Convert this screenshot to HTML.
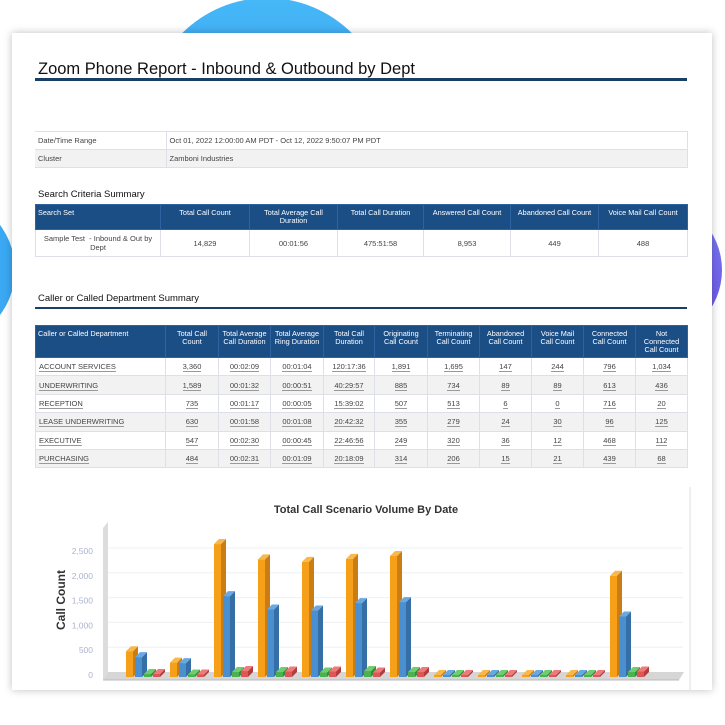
<!DOCTYPE html>
<html><head><meta charset="utf-8">
<style>
body{margin:0;width:725px;height:725px;position:relative;overflow:hidden;background:#fff;font-family:"Liberation Sans",sans-serif;}
#card{position:absolute;left:12px;top:33px;width:700px;height:657px;background:#fff;box-shadow:0 0 8px rgba(0,0,0,0.25);}
.abs{position:absolute;}
table{border-collapse:collapse;table-layout:fixed;position:absolute;font-size:7.5px;color:#444;}
td{border:1px solid #dde0e8;padding:0 3px;overflow:hidden;}
th{background:#1c4e86;color:#fff;font-weight:normal;border:1px solid #2f62a0;font-size:7.3px;line-height:8px;vertical-align:top;padding:4px 2px 0 2px;overflow:hidden;}
.u{border-bottom:1px solid #999;}
.g td{background:#f2f2f2;}
</style></head>
<body>
<svg width="725" height="725" style="position:absolute;left:0;top:0">
<defs>
<linearGradient id="gb" x1="0" y1="0" x2="0" y2="1"><stop offset="0" stop-color="#45b8f7"/><stop offset="1" stop-color="#3a8cf0"/></linearGradient>
<linearGradient id="gp" x1="0" y1="0" x2="0" y2="1"><stop offset="0" stop-color="#7a7ff0"/><stop offset="1" stop-color="#6b4fe6"/></linearGradient>
</defs>
<circle cx="267" cy="118" r="120" fill="url(#gb)"/>
<circle cx="-60" cy="270" r="75" fill="#3aa8f2"/>
<circle cx="650" cy="270" r="72" fill="url(#gp)"/>
</svg>
<div id="card"></div>

<div class="abs" style="left:38px;top:60px;font-size:16.5px;color:#111;">Zoom Phone Report - Inbound &amp; Outbound by Dept</div>
<div class="abs" style="left:35px;top:78px;width:652px;height:3px;background:#1a3f66;"></div>

<table style="left:35px;top:131px;width:652px;">
<colgroup><col style="width:131px"><col style="width:521px"></colgroup>
<tr style="height:18px"><td style="border-left:none">Date/Time Range</td><td>Oct 01, 2022 12:00:00 AM PDT - Oct 12, 2022 9:50:07 PM PDT</td></tr>
<tr style="height:18px" class="g"><td style="border-left:none">Cluster</td><td>Zamboni Industries</td></tr>
</table>

<div class="abs" style="left:38px;top:189px;font-size:9.5px;color:#111;">Search Criteria Summary</div>
<table style="left:35px;top:204px;width:652px;text-align:center;">
<colgroup><col style="width:125px"><col style="width:89px"><col style="width:88px"><col style="width:86px"><col style="width:87px"><col style="width:88px"><col style="width:89px"></colgroup>
<tr style="height:25px"><th style="text-align:left">Search Set</th><th>Total Call Count</th><th>Total Average Call Duration</th><th>Total Call Duration</th><th>Answered Call Count</th><th>Abandoned Call Count</th><th>Voice Mail Call Count</th></tr>
<tr style="height:27px"><td>Sample Test &nbsp;- Inbound &amp; Out by Dept</td><td>14,829</td><td>00:01:56</td><td>475:51:58</td><td>8,953</td><td>449</td><td>488</td></tr>
</table>

<div class="abs" style="left:38px;top:293px;font-size:9.5px;color:#111;">Caller or Called Department Summary</div>
<div class="abs" style="left:35px;top:307px;width:652px;height:2px;background:#1a3f66;"></div>

<table style="left:35px;top:325px;width:652px;text-align:center;">
<colgroup><col style="width:130px"><col style="width:53px"><col style="width:52px"><col style="width:53px"><col style="width:51px"><col style="width:53px"><col style="width:52px"><col style="width:52px"><col style="width:52px"><col style="width:52px"><col style="width:52px"></colgroup>
<tr style="height:32px"><th style="text-align:left">Caller or Called Department</th><th>Total Call Count</th><th>Total Average Call Duration</th><th>Total Average Ring Duration</th><th>Total Call Duration</th><th>Originating Call Count</th><th>Terminating Call Count</th><th>Abandoned Call Count</th><th>Voice Mail Call Count</th><th>Connected Call Count</th><th>Not Connected Call Count</th></tr>
<tr style="height:18.4px"><td style="text-align:left"><span class="u">ACCOUNT SERVICES</span></td><td><span class="u">3,360</span></td><td><span class="u">00:02:09</span></td><td><span class="u">00:01:04</span></td><td><span class="u">120:17:36</span></td><td><span class="u">1,891</span></td><td><span class="u">1,695</span></td><td><span class="u">147</span></td><td><span class="u">244</span></td><td><span class="u">796</span></td><td><span class="u">1,034</span></td></tr>
<tr style="height:18.4px" class="g"><td style="text-align:left"><span class="u">UNDERWRITING</span></td><td><span class="u">1,589</span></td><td><span class="u">00:01:32</span></td><td><span class="u">00:00:51</span></td><td><span class="u">40:29:57</span></td><td><span class="u">885</span></td><td><span class="u">734</span></td><td><span class="u">89</span></td><td><span class="u">89</span></td><td><span class="u">613</span></td><td><span class="u">436</span></td></tr>
<tr style="height:18.4px"><td style="text-align:left"><span class="u">RECEPTION</span></td><td><span class="u">735</span></td><td><span class="u">00:01:17</span></td><td><span class="u">00:00:05</span></td><td><span class="u">15:39:02</span></td><td><span class="u">507</span></td><td><span class="u">513</span></td><td><span class="u">6</span></td><td><span class="u">0</span></td><td><span class="u">716</span></td><td><span class="u">20</span></td></tr>
<tr style="height:18.4px" class="g"><td style="text-align:left"><span class="u">LEASE UNDERWRITING</span></td><td><span class="u">630</span></td><td><span class="u">00:01:58</span></td><td><span class="u">00:01:08</span></td><td><span class="u">20:42:32</span></td><td><span class="u">355</span></td><td><span class="u">279</span></td><td><span class="u">24</span></td><td><span class="u">30</span></td><td><span class="u">96</span></td><td><span class="u">125</span></td></tr>
<tr style="height:18.4px"><td style="text-align:left"><span class="u">EXECUTIVE</span></td><td><span class="u">547</span></td><td><span class="u">00:02:30</span></td><td><span class="u">00:00:45</span></td><td><span class="u">22:46:56</span></td><td><span class="u">249</span></td><td><span class="u">320</span></td><td><span class="u">36</span></td><td><span class="u">12</span></td><td><span class="u">468</span></td><td><span class="u">112</span></td></tr>
<tr style="height:18.4px" class="g"><td style="text-align:left"><span class="u">PURCHASING</span></td><td><span class="u">484</span></td><td><span class="u">00:02:31</span></td><td><span class="u">00:01:09</span></td><td><span class="u">20:18:09</span></td><td><span class="u">314</span></td><td><span class="u">206</span></td><td><span class="u">15</span></td><td><span class="u">21</span></td><td><span class="u">439</span></td><td><span class="u">68</span></td></tr>
</table>

<svg id="chart" width="725" height="725" style="position:absolute;left:0;top:0;pointer-events:none" font-family="Liberation Sans, sans-serif"></svg>

<script>
const categories=["Oct 01","Oct 02","Oct 03","Oct 04","Oct 05","Oct 06","Oct 07","Oct 08","Oct 09","Oct 10","Oct 11","Oct 12"];
const totalCalls=[480,250,2640,2330,2280,2340,2400,0,0,0,0,2000];
const answeredCalls=[360,240,1590,1320,1300,1450,1470,0,0,0,0,1180];
const voiceMailCalls=[20,10,60,60,50,80,60,0,0,0,0,60];
const abandonedCalls=[20,10,80,70,70,50,60,0,0,0,0,70];
const yTicks=[0,500,1000,1500,2000,2500];
const yTickLabels=["0","500","1,000","1,500","2,000","2,500"];

const svg=document.getElementById('chart');
const NS='http://www.w3.org/2000/svg';
function mk(tag,attrs){const e=document.createElementNS(NS,tag);for(const k in attrs)e.setAttribute(k,attrs[k]);svg.appendChild(e);return e;}
const y0=675,pxPer=24.8/500;
function yScale(v){return y0-v*pxPer;}
function xScale(i){return 126+i*44.0;}

let e=mk('line',{x1:690,y1:487,x2:690,y2:690,stroke:'#ddd','stroke-width':1});

e=mk('text',{x:366,y:513,'text-anchor':'middle','font-size':11,'font-weight':'bold',fill:'#333'});
e.textContent='Total Call Scenario Volume By Date';

e=mk('polygon',{points:'103,528 108,522 108,672 103,680',fill:'#dcdcdc'});

e=mk('polygon',{points:'103,680 108,672 684,672 679,680',fill:'#d6d6d6'});

e=mk('line',{x1:103,y1:680,x2:679,y2:680,stroke:'#bbb','stroke-width':1});

yTicks.forEach((t,i)=>{
  if(t>0){const g=mk('line',{x1:108,y1:yScale(t)-3,x2:683,y2:yScale(t)-3,stroke:'#eef0f4','stroke-width':1});
  }
  const l=mk('text',{x:93,y:yScale(t)+3,'text-anchor':'end','font-size':8.5,fill:'#a8b4cc'});
  l.textContent=yTickLabels[i];
  
});
e=mk('text',{x:0,y:0,'font-size':12,'font-weight':'bold',fill:'#333','text-anchor':'middle',transform:'translate(65,600) rotate(-90)'});
e.textContent='Call Count';


const series=[[totalCalls,'#f6a01a','#c97d14','#fbb84a'],[answeredCalls,'#4a8fd0','#366fa6','#6aa8e0'],[voiceMailCalls,'#4cb14f','#3a8a3c','#6fcd6f'],[abandonedCalls,'#e05555','#b33c3c','#ef7a7a']];
const bw=7,dx=5,dy=5;
categories.forEach((c,i)=>{
  series.forEach((s,j)=>{
    const v=s[0][i];
    const x=xScale(i)+j*9;
    const top=yScale(v),bot=y0+2;
    const h=Math.max(bot-top,2);const t=bot-h;
    const side=mk('polygon',{points:`${x+bw},${t} ${x+bw+dx},${t-dy} ${x+bw+dx},${bot-dy} ${x+bw},${bot}`,fill:s[2]});
    
    const tp=mk('polygon',{points:`${x},${t} ${x+dx},${t-dy} ${x+bw+dx},${t-dy} ${x+bw},${t}`,fill:s[3]});
    
    const r=mk('rect',{x:x,y:t,width:bw,height:h,fill:s[1]});
    
    
  });
});
</script>
</body></html>
